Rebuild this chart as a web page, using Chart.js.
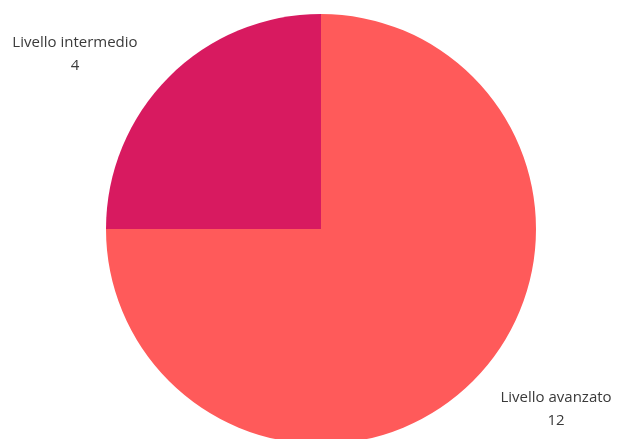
<!DOCTYPE html>
<html>
<head>
<meta charset="utf-8">
<script src="https://cdn.jsdelivr.net/npm/chart.js@4"></script>
<style>
  html, body { margin: 0; padding: 0; background: #ffffff; overflow: hidden; }
  #wrap { width: 618px; height: 439px; overflow: hidden; }
  canvas { display: block; }
</style>
</head>
<body>
<div id="wrap"><canvas id="chart" width="618" height="460"></canvas></div>
<script>
const categories = ['Livello avanzato', 'Livello intermedio'];
const values = [12, 4];
const sliceColors = ['#FF5A5A', '#D81A60'];

// Draws "name\nvalue" labels outside each slice, pushed away horizontally
const outsideLabels = {
  id: 'outsideLabels',
  afterDatasetsDraw(chart) {
    const ctx = chart.ctx;
    const meta = chart.getDatasetMeta(0);
    ctx.save();
    ctx.font = '15px "Open Sans", sans-serif';
    ctx.fillStyle = '#3a3a3a';
    ctx.textAlign = 'center';
    ctx.textBaseline = 'middle';
    meta.data.forEach((arc, i) => {
      const mid = (arc.startAngle + arc.endAngle) / 2;
      const r = arc.outerRadius;
      const px = arc.x + Math.cos(mid) * r;
      const py = arc.y + Math.sin(mid) * r;
      const right = Math.cos(mid) >= 0;
      const down = Math.sin(mid) >= 0;
      const lx = px + (right ? 83 : -94);
      const ly = py + (down ? 17 : -34);
      ctx.fillText(categories[i], lx, ly);
      ctx.fillText(String(values[i]), lx, ly + 23);
    });
    ctx.restore();
  }
};

new Chart(document.getElementById('chart'), {
  type: 'pie',
  data: {
    labels: categories,
    datasets: [{
      data: values,
      backgroundColor: sliceColors,
      borderWidth: 0
    }]
  },
  options: {
    responsive: false,
    animation: false,
    devicePixelRatio: 1,
    layout: { padding: { top: 14, bottom: 16, left: 24, right: 0 } },
    plugins: {
      legend: { display: false },
      tooltip: { enabled: false }
    }
  },
  plugins: [outsideLabels]
});
</script>
</body>
</html>
